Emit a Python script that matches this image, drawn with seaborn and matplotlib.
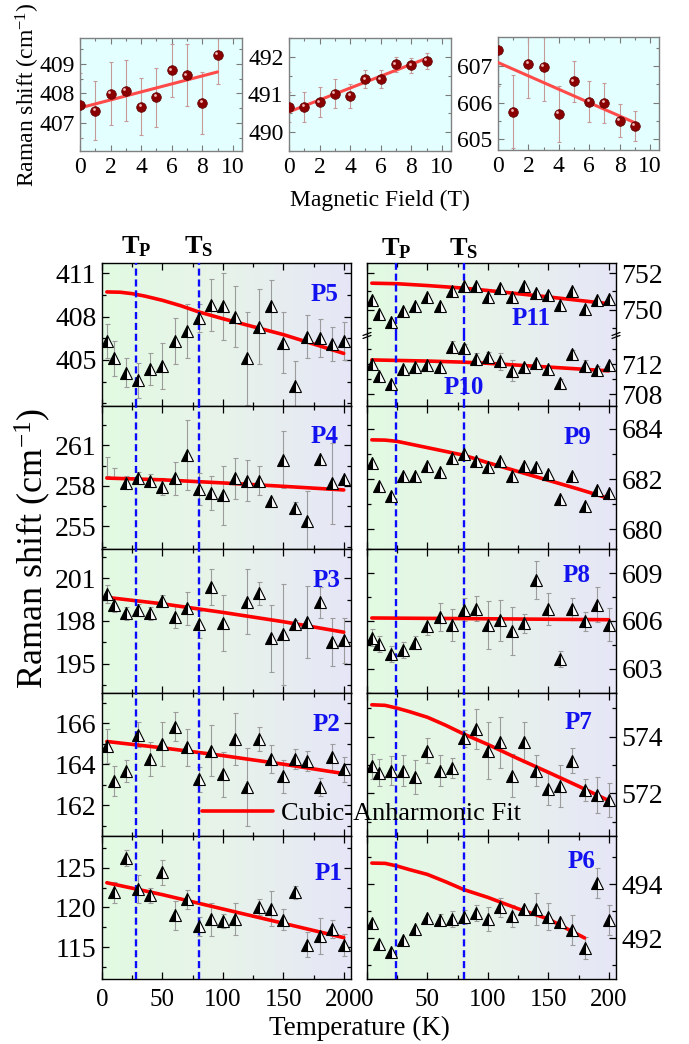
import numpy as np
import matplotlib
matplotlib.use('Agg')
import matplotlib.pyplot as plt
import matplotlib.transforms as mtransforms
from matplotlib.colors import LinearSegmentedColormap
from matplotlib.lines import Line2D
from matplotlib.ticker import MultipleLocator
import seaborn as sns

sns.set_theme(style='ticks')
plt.rcParams['font.family'] = ['Liberation Serif', 'DejaVu Serif']
plt.rcParams['mathtext.fontset'] = 'custom'
plt.rcParams['mathtext.rm'] = 'Liberation Serif'
plt.rcParams['mathtext.it'] = 'Liberation Serif:italic'
plt.rcParams['mathtext.bf'] = 'Liberation Serif:bold'
plt.rcParams['text.color'] = 'black'
plt.rcParams['axes.labelcolor'] = 'black'
plt.rcParams['xtick.color'] = 'black'
plt.rcParams['ytick.color'] = 'black'

# ── magnetic-field panels (top row) ──────────────────────────
FIELD = [0, 1, 2, 3, 4, 5, 6, 7, 8, 9]
B407 = [407.60, 407.42, 407.99, 408.10, 407.55, 407.88, 408.78, 408.62, 407.68, 409.32]
B407_ERR = [1.1, 1.0, 1.07, 1.03, 0.97, 1.0, 0.9, 1.05, 1.05, 1.0]
B491 = [490.67, 490.67, 490.79, 491.02, 490.96, 491.40, 491.40, 491.80, 491.77, 491.89]
B491_ERR = [0.4, 0.4, 0.4, 0.38, 0.33, 0.24, 0.24, 0.2, 0.2, 0.2]
B606 = [607.45, 605.75, 607.07, 606.99, 605.69, 606.58, 606.03, 605.99, 605.50, 605.36]
B606_ERR = [1.0, 1.0, 0.93, 0.95, 0.77, 0.57, 0.56, 0.54, 0.45, 0.41]
B_FIT_X = [0, 9]
B407_FIT = [407.51, 408.73]
B491_FIT = [490.54, 491.96]
B606_FIT = [607.10, 605.45]

# ── temperature panels ───────────────────────────────────────
TEMP = [4, 10, 20, 30, 40, 50, 60, 70, 80, 90, 100, 110, 120, 130, 140, 150, 160, 170, 180, 190, 200]
nan = np.nan

P5 = [406.3, 405.1, 404.1, 403.6, 404.4, 404.6, 406.3, 407.0, 407.9, 408.8, 408.7,
      408.0, 405.1, 407.3, 408.7, 406.2, 403.2, 406.6, 406.5, 406.1, 406.3]
P5_ERR = [1.2, 1.2, 1.0, 1.2, 1.1, 1.6, 1.6, 1.9, 1.0, 1.8, 2.3, 2.1, 3.2, 2.6, 1.8, 2.1, 1.7, 1.5, 1.3, 1.2, 1.3]
P5_FIT_T = [4, 15, 25, 35, 50, 65, 80, 100, 125, 150, 175, 200]
P5_FIT = [409.70, 409.68, 409.58, 409.42, 409.12, 408.75, 408.32, 407.85, 407.30, 406.75, 406.10, 405.45]

P4 = [nan, nan, 258.24, 258.6, 258.4, 257.95, 258.56, 260.3, 257.76, 257.46, 257.3,
      258.56, 258.4, 258.4, 256.9, 259.95, 256.4, 255.4, 260.0, 258.2, 258.5]
P4_ERR = [0, 0, 0.5, 0.4, 0.45, 0.6, 1.2, 2.6, 1.2, 1.25, 2.2, 1.5, 1.55, 1.05, 0, 2.1, 0.4, 2.2, 0, 3.0, 0]
P4_BAR_T = [4, 10]
P4_BAR = [259.44, 258.98]
P4_BAR_ERR = [0.7, 0.37]
P4_FIT_T = [4, 50, 100, 150, 200]
P4_FIT = [258.58, 258.45, 258.22, 257.97, 257.70]

P3 = [199.88, 199.13, 198.54, 198.78, 198.54, 199.4, 198.3, 198.9, 197.76, 200.35, 197.84,
      nan, 199.36, 199.95, 196.8, 197.06, 197.76, 197.93, 199.3, 196.54, 196.64]
P3_ERR = [0.6, 0.5, 0.45, 0.4, 0.45, 0.45, 0.8, 1.15, 0.95, 1.25, 1.95, 0, 2.3, 0.8, 2.35, 3.5, 0.3, 2.5, 1.1, 1.7, 1.6]
P3_FIT_T = [4, 50, 100, 150, 200]
P3_FIT = [199.65, 199.20, 198.60, 197.95, 197.22]

P2 = [164.9, 163.18, 163.67, 165.44, 164.25, 164.98, 165.84, 164.82, 163.26, 164.66, 163.5,
      165.23, 162.9, 165.23, 164.25, 163.4, 164.25, 164.16, 162.88, 164.33, 163.75]
P2_ERR = [0.82, 0.75, 0.55, 0.6, 0.85, 1.08, 0.7, 0.9, 0.6, 1.25, 1.1, 1.28, 1.9, 0.57, 0.68, 0.82, 0.5, 0.5, 0.45, 0.68, 0.6]
P2_FIT_T = [4, 50, 100, 150, 200]
P2_FIT = [165.11, 164.80, 164.42, 164.00, 163.54]

P1 = [nan, 121.9, 126.2, 122.3, 121.5, 124.4, 119.0, 121.0, 117.6, 118.5, 118.25,
      118.5, nan, 120.0, 119.8, 118.45, 121.9, 115.3, 116.4, 117.3, 115.25]
P1_ERR = [0, 1.3, 1.0, 1.8, 0.9, 1.6, 1.8, 1.15, 1.2, 2.1, 0.9, 2.0, 0, 1.0, 2.2, 1.3, 0.8, 1.55, 2.3, 1.15, 1.35]
P1_FIT_T = [4, 50, 100, 150, 200]
P1_FIT = [123.1, 121.6, 119.8, 118.0, 116.2]

P11 = [750.55, 749.76, 749.36, 749.95, 750.2, 750.7, 750.2, 751.04, 751.27, 751.27, 750.7,
       751.2, 750.67, 751.27, 750.9, 750.8, 750.27, 751.04, 750.04, 750.55, 750.6]
P11_FIT_T = [4, 25, 50, 80, 100, 150, 200]
P11_FIT = [751.45, 751.42, 751.32, 751.18, 751.05, 750.70, 750.33]

P10 = [712.0, 710.36, 709.4, 711.33, 711.56, 711.87, 711.56, 714.3, 714.1, 712.67, 712.9,
       712.36, 711.1, 711.56, 712.2, 711.4, 709.5, 713.4, 711.7, 711.2, 711.87]
P10_ERR = [0, 0, 0, 0, 0, 0, 0, 0.7, 0.6, 0.8, 0.7, 1.1, 1.4, 0, 0, 0, 0.5, 0.5, 0.8, 0.6, 0]
P10_FIT_T = [4, 50, 80, 100, 150, 200]
P10_FIT = [712.55, 712.40, 712.25, 712.10, 711.60, 711.10]

P9 = [682.63, 681.73, 681.33, 682.13, 682.13, 682.5, 682.27, 682.83, 683.0, 682.7, 682.47,
      682.7, 682.13, 682.5, 682.47, 682.2, 681.2, 682.13, 680.93, 681.56, 681.43]
P9_FIT_T = [4, 15, 25, 40, 60, 80, 100, 125, 150, 175, 200]
P9_FIT = [683.56, 683.55, 683.50, 683.35, 683.15, 682.95, 682.65, 682.30, 681.95, 681.60, 681.23]

P8 = [604.95, 604.57, 603.94, 604.15, 604.63, 605.66, 606.25, 605.77, 606.72, 606.78, 605.73,
      606.04, 605.37, 605.87, 608.6, 606.78, 603.62, 606.74, 605.98, 607.03, 605.77]
P8_ERR = [0.55, 0.5, 0.5, 0.5, 0.4, 0.55, 0.85, 1.0, 0.7, 0.8, 1.5, 1.3, 1.5, 0.6, 1.2, 1.0, 0.5, 0.7, 0.6, 1.1, 1.05]
P8_FIT_T = [4, 100, 200]
P8_FIT = [606.19, 606.14, 606.08]

P7 = [572.95, 572.72, 572.8, 572.8, 572.56, 573.5, 572.8, 572.9, 573.94, 574.27, 573.5,
      573.8, 572.62, 573.82, 572.8, 572.15, 572.25, 573.15, 572.12, 571.94, 571.76]
P7_ERR = [0.45, 0.48, 0.5, 0.55, 0.6, 0.45, 0.55, 0.35, 0.3, 0.7, 1.0, 0.9, 0.75, 0.7, 0.55, 0.55, 0.75, 0.45, 0.4, 0.62, 0.6]
P7_FIT_T = [4, 15, 25, 35, 50, 65, 80, 100, 125, 150, 175, 200]
P7_FIT = [575.12, 575.10, 575.00, 574.88, 574.68, 574.40, 574.09, 573.72, 573.22, 572.74, 572.25, 571.74]

P6 = [492.56, 491.78, 491.5, 491.94, 492.34, 492.75, 492.69, 492.71, 492.79, 492.94, 492.73,
      493.15, 492.84, 493.09, 493.1, 492.81, 492.6, 492.31, 491.65, 494.04, 492.69]
P6_ERR = [0, 0, 0, 0, 0, 0, 0.2, 0.3, 0.25, 0.3, 0.45, 0.35, 0.4, 0, 0.6, 0.5, 0, 0.55, 0.4, 0.55, 0.55]
P6_FIT_T = [4, 15, 25, 35, 50, 65, 80, 100, 125, 150, 180]
P6_FIT = [494.79, 494.78, 494.68, 494.55, 494.37, 494.10, 493.81, 493.52, 493.10, 492.72, 492.02]

TP_LEFT, TS_LEFT = 28, 80
TP_RIGHT, TS_RIGHT = 24, 80

# ── layout helpers ───────────────────────────────────────────
W, H = 689, 1044
T_MAX = 206
BG = LinearSegmentedColormap.from_list('bg', ['#e2fae2', '#e8f3ea', '#e6e6f7'])
DASH = dict(color='#0a0aff', lw=1.7, ls=(0, (3, 1.6)), zorder=3.5)
RED = '#ff0000'
BLUE_TXT = '#1212f0'


def px_box(left, top, right, bottom):
    return [left / W, 1 - bottom / H, (right - left) / W, (bottom - top) / H]


def paint_bg(ax, ylim):
    ax.imshow(np.linspace(0, 1, 256)[None, :], extent=(0, T_MAX, ylim[0], ylim[1]),
              aspect='auto', cmap=BG, zorder=0, interpolation='bilinear')


def style_main(ax, ylim, yticks, yminor, side, xlabels):
    ax.set_xlim(0, T_MAX)
    ax.set_ylim(*ylim)
    ax.set_xticks([0, 50, 100, 150, 200])
    ax.xaxis.set_minor_locator(MultipleLocator(25))
    ax.set_yticks(yticks)
    ax.yaxis.set_minor_locator(MultipleLocator(yminor))
    ax.tick_params(which='both', direction='in', top=True, bottom=True, left=True, right=True,
                   labelleft=(side == 'left'), labelright=(side == 'right'),
                   labelbottom=xlabels, width=0.9, color='black', labelcolor='black')
    ax.tick_params(axis='y', which='major', labelsize=20, pad=4)
    ax.tick_params(axis='x', which='major', labelsize=18, pad=7)
    ax.tick_params(which='major', length=5)
    ax.tick_params(which='minor', length=3)
    for s in ax.spines.values():
        s.set_color('black')
        s.set_linewidth(1.0)
    ax.grid(False)


def draw_main(ax, vals, errs, fit_t, fit_v, ylim, yticks, yminor, side, xlabels, tp, ts):
    paint_bg(ax, ylim)
    ax.axvline(tp, **DASH)
    ax.axvline(ts, **DASH)
    if errs is not None:
        ax.errorbar(TEMP, vals, yerr=errs, fmt='none', ecolor='#9c9c9c', elinewidth=0.8,
                    capsize=1.8, capthick=0.8, zorder=2)
    sns.lineplot(x=fit_t, y=fit_v, ax=ax, color=RED, linewidth=2.6, zorder=3, legend=False)
    ax.plot(TEMP, vals, ls='none', marker='^', ms=8.5, fillstyle='left',
            markerfacecolor='black', markerfacecoloralt='white',
            markeredgecolor='black', markeredgewidth=0.8, zorder=4)
    style_main(ax, ylim, yticks, yminor, side, xlabels)


def tag(ax, name, xf, yf):
    ax.text(xf, yf, name, transform=ax.transAxes, ha='center', va='center',
            fontsize=18, fontweight='bold', color=BLUE_TXT, zorder=6)


def t_labels(ax, tp, ts):
    tr = mtransforms.blended_transform_factory(ax.transData, ax.transAxes)
    for x, sub in [(tp, 'P'), (ts, 'S')]:
        ax.text(x, 1.03, r'$\mathbf{T}_{\mathbf{%s}}$' % sub, transform=tr,
                ha='center', va='bottom', fontsize=19, color='black')


fig = plt.figure(figsize=(W / 100, H / 100), dpi=100)

# ── top row: Raman shift vs magnetic field ───────────────────
top_panels = [
    ((80, 38, 242, 151), B407, B407_ERR, B407_FIT, (406.05, 409.88), [407, 408, 409]),
    ((289, 38, 451, 151), B491, B491_ERR, B491_FIT, (489.5, 492.5), [490, 491, 492]),
    ((498, 37, 659, 150), B606, B606_ERR, B606_FIT, (604.7, 607.8), [605, 606, 607]),
]
for box, vals, errs, fit, ylim, yticks in top_panels:
    ax = fig.add_axes(px_box(*box))
    ax.set_facecolor('#e3ffff')
    ax.errorbar(FIELD, vals, yerr=errs, fmt='none', ecolor='#c79a9a', elinewidth=0.8,
                capsize=1.5, capthick=0.8, zorder=2)
    sns.lineplot(x=B_FIT_X, y=fit, ax=ax, color='#ff4a4a', linewidth=2.2, zorder=3, legend=False)
    sns.scatterplot(x=FIELD, y=vals, ax=ax, color='#8a0000', s=48, edgecolor='#5a0000',
                    linewidth=0.5, zorder=4, legend=False)
    hl = mtransforms.offset_copy(ax.transData, fig=fig, x=-1.1, y=1.2, units='points')
    ax.scatter(FIELD, vals, s=4, color='#f2b8b8', linewidths=0, zorder=5, transform=hl)
    ax.set_xlim(0, 10.6)
    ax.set_ylim(*ylim)
    ax.set_xticks([0, 2, 4, 6, 8, 10])
    ax.xaxis.set_minor_locator(MultipleLocator(1))
    ax.set_yticks(yticks)
    ax.yaxis.set_minor_locator(MultipleLocator(0.5))
    ax.tick_params(which='both', direction='in', top=True, right=True, color='#7a7a7a',
                   labelcolor='black', labelsize=17, width=0.8, pad=4)
    ax.tick_params(which='major', length=4)
    ax.tick_params(which='minor', length=2.5)
    for s in ax.spines.values():
        s.set_color('#808080')
        s.set_linewidth(1.0)
    ax.grid(False)

fig.text(28 / W, 1 - 95 / H, r'Raman shift (cm$^{-1}$)', rotation=90, ha='center', va='center',
         fontsize=17, color='black')
fig.text(380 / W, 1 - 200 / H, 'Magnetic Field (T)', ha='center', va='center', fontsize=17, color='black')

# ── main grid: Raman shift vs temperature ────────────────────
ROW_TOP, ROW_H = 263, 143.2
LEFT_X, RIGHT_X = (102, 351), (367, 616)


def row_box(col, i):
    t = ROW_TOP + i * ROW_H
    return px_box(col[0], t, col[1], t + ROW_H)


left_panels = [
    ('P5', P5, P5_ERR, P5_FIT_T, P5_FIT, (401.8, 411.7), [405, 408, 411], 1.5, (0.895, 0.78)),
    ('P4', P4, P4_ERR, P4_FIT_T, P4_FIT, (253.3, 263.9), [255, 258, 261], 1.5, (0.895, 0.79)),
    ('P3', P3, P3_ERR, P3_FIT_T, P3_FIT, (193.0, 203.0), [195, 198, 201], 1.5, (0.9, 0.78)),
    ('P2', P2, P2_ERR, P2_FIT_T, P2_FIT, (160.5, 167.5), [162, 164, 166], 1.0, (0.9, 0.78)),
    ('P1', P1, P1_ERR, P1_FIT_T, P1_FIT, (111.0, 129.0), [115, 120, 125], 2.5, (0.91, 0.74)),
]
for i, (name, vals, errs, ft, fv, ylim, yt, ym, pos) in enumerate(left_panels):
    ax = fig.add_axes(row_box(LEFT_X, i))
    draw_main(ax, vals, errs, ft, fv, ylim, yt, ym, 'left', i == 4, TP_LEFT, TS_LEFT)
    if name == 'P4':
        ax.errorbar(P4_BAR_T, P4_BAR, yerr=P4_BAR_ERR, fmt='none', ecolor='#9c9c9c',
                    elinewidth=0.8, capsize=1.8, capthick=0.8, zorder=2)
    tag(ax, name, *pos)
    if i == 0:
        t_labels(ax, TP_LEFT, TS_LEFT)

# right column, first row is a broken axis holding P11 (top) and P10 (bottom)
split = ROW_TOP + 0.506 * ROW_H
ax_up = fig.add_axes(px_box(RIGHT_X[0], ROW_TOP, RIGHT_X[1], split))
ax_lo = fig.add_axes(px_box(RIGHT_X[0], split, RIGHT_X[1], ROW_TOP + ROW_H))
draw_main(ax_up, P11, None, P11_FIT_T, P11_FIT, (748.6, 752.55), [750, 752], 1.0, 'right', False, TP_RIGHT, TS_RIGHT)
draw_main(ax_lo, P10, P10_ERR, P10_FIT_T, P10_FIT, (706.4, 715.8), [708, 712], 2.0, 'right', False, TP_RIGHT, TS_RIGHT)
ax_up.spines['bottom'].set_visible(False)
ax_up.tick_params(which='both', bottom=False)
ax_lo.spines['top'].set_visible(False)
ax_lo.tick_params(which='both', top=False)
tag(ax_up, 'P11', 0.66, 0.24)
tag(ax_lo, 'P10', 0.39, 0.26)
t_labels(ax_up, TP_RIGHT, TS_RIGHT)
for xp in RIGHT_X:
    for dy in (-1.5, 1.5):
        fig.add_artist(Line2D([(xp - 4) / W, (xp + 4) / W],
                              [1 - (split + dy + 1.5) / H, 1 - (split + dy - 1.5) / H],
                              color='black', lw=0.9))

right_panels = [
    ('P9', P9, None, P9_FIT_T, P9_FIT, (679.2, 684.9), [680, 682, 684], 1.0, (0.845, 0.78)),
    ('P8', P8, P8_ERR, P8_FIT_T, P8_FIT, (601.5, 610.5), [603, 606, 609], 1.5, (0.84, 0.82)),
    ('P7', P7, P7_ERR, P7_FIT_T, P7_FIT, (570.5, 575.55), [572, 574], 1.0, (0.85, 0.79)),
    ('P6', P6, P6_ERR, P6_FIT_T, P6_FIT, (490.5, 495.8), [492, 494], 1.0, (0.86, 0.82)),
]
for i, (name, vals, errs, ft, fv, ylim, yt, ym, pos) in enumerate(right_panels, start=1):
    ax = fig.add_axes(row_box(RIGHT_X, i))
    draw_main(ax, vals, errs, ft, fv, ylim, yt, ym, 'right', i == 4, TP_RIGHT, TS_RIGHT)
    tag(ax, name, *pos)

fig.text(33 / W, 1 - 548 / H, r'Raman shift (cm$^{-1}$)', rotation=90, ha='center', va='center',
         fontsize=26, color='black')
fig.text(359 / W, 1 - 1028 / H, 'Temperature (K)', ha='center', va='center', fontsize=19.5, color='black')

fit_handle = Line2D([], [], color=RED, lw=2.6)
leg = fig.legend(handles=[fit_handle], labels=['Cubic-Anharmonic Fit'], loc='center left',
                 bbox_to_anchor=(202 / W, 1 - 813 / H), frameon=False, fontsize=19,
                 handlelength=2.7, handletextpad=0.3, borderpad=0, borderaxespad=0)
for t in leg.get_texts():
    t.set_color('black')

fig.savefig('out.png', dpi=100, facecolor='white')
